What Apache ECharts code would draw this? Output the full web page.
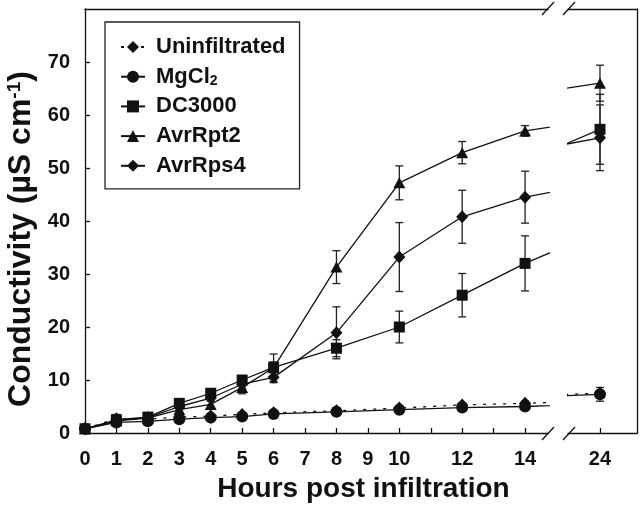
<!DOCTYPE html>
<html><head><meta charset="utf-8">
<script src="https://cdn.jsdelivr.net/npm/echarts@6/dist/echarts.min.js"></script>
<style>html,body{margin:0;padding:0;background:#fff}#c{width:641px;height:509px}</style>
</head><body><div id="c"></div>
<script>
const hours = [0, 1, 2, 3, 4, 5, 6, 8, 10, 12, 14, 24];
const uninfiltrated    = [0.8, 2.7, 2.6, 3.0, 3.2, 3.5, 3.8, 4.2, 4.7, 5.3, 5.6, 7.5];
const uninfiltratedErr = [0.2, 0.8, 0.3, 0.3, 0.3, 0.3, 0.3, 0.3, 0.3, 0.4, 0.4, 0.5];
const mgcl2    = [0.8, 2.0, 2.2, 2.6, 2.9, 3.1, 3.6, 4.0, 4.4, 4.8, 5.0, 7.3];
const mgcl2Err = [0.2, 0.4, 0.3, 0.3, 0.3, 0.3, 0.3, 0.3, 0.4, 0.4, 0.5, 1.3];
const dc3000    = [0.8, 2.5, 3.0, 5.6, 7.5, 10.0, 12.4, 16.0, 20.0, 26.0, 32.0, 57.3];
const dc3000Err = [0.2, 0.5, 0.5, 0.6, 0.7, 0.8, 1.0, 1.6, 3.0, 4.1, 5.2, 6.6];
const avrRpt2    = [0.8, 2.3, 2.8, 4.4, 5.4, 8.6, 12.3, 31.3, 47.2, 52.9, 57.0, 66.0];
const avrRpt2Err = [0.2, 0.5, 0.4, 0.5, 0.8, 1.2, 2.6, 3.1, 3.2, 2.1, 1.0, 3.4];
const avrRps4    = [0.8, 2.4, 2.9, 5.0, 6.6, 9.2, 10.5, 18.9, 33.2, 40.8, 44.5, 55.7];
const avrRps4Err = [0.2, 0.5, 0.4, 0.5, 0.6, 0.8, 1.0, 4.9, 6.5, 5.0, 4.9, 6.2];

const yTicks = [0, 10, 20, 30, 40, 50, 60, 70];
const xTicksLeft = [0, 1, 2, 3, 4, 5, 6, 7, 8, 9, 10, 11, 12, 13, 14];
const xLabelsLeft = [0, 1, 2, 3, 4, 5, 6, 7, 8, 9, 10, 12, 14];
const xTicksRight = [24];

const FONT = 'Liberation Sans, Arial, sans-serif';
const INK = '#111';

const seriesDefs = [
  {name: 'Uninfiltrated', vals: uninfiltrated, errs: uninfiltratedErr, symbol: 'diamond', size: [12, 13], dash: [3, 7]},
  {name: 'MgCl2', vals: mgcl2, errs: mgcl2Err, symbol: 'circle', size: 12, dash: 'solid'},
  {name: 'DC3000', vals: dc3000, errs: dc3000Err, symbol: 'rect', size: 11, dash: 'solid'},
  {name: 'AvrRpt2', vals: avrRpt2, errs: avrRpt2Err, symbol: 'triangle', size: [12, 11], dash: 'solid'},
  {name: 'AvrRps4', vals: avrRps4, errs: avrRps4Err, symbol: 'diamond', size: [12, 13], dash: 'solid'}
];

function lineSeries(d, xi, yi) {
  return {
    type: 'line', name: d.name, xAxisIndex: xi, yAxisIndex: yi,
    data: hours.map((h, i) => [h, d.vals[i]]),
    symbol: d.symbol, symbolSize: d.size, showAllSymbol: true,
    itemStyle: {color: INK},
    lineStyle: {color: INK, width: 1.3, type: d.dash},
    clip: true, z: 3, animation: false
  };
}
function errSeries(d, xi, yi, lo, hi) {
  const data = hours.map((h, i) => [h, d.vals[i] - d.errs[i], d.vals[i] + d.errs[i]])
    .filter(p => p[0] >= lo && p[0] <= hi);
  return {
    type: 'custom', name: d.name + ' error', xAxisIndex: xi, yAxisIndex: yi, z: 2, silent: true,
    data: data, encode: {x: 0, y: [1, 2]}, animation: false,
    renderItem: function (params, api) {
      const x = api.value(0);
      const a = api.coord([x, api.value(1)]);
      const b = api.coord([x, api.value(2)]);
      const hw = 4;
      const st = {stroke: '#222', lineWidth: 1.3};
      return {type: 'group', children: [
        {type: 'line', shape: {x1: a[0], y1: a[1], x2: b[0], y2: b[1]}, style: st},
        {type: 'line', shape: {x1: a[0] - hw, y1: a[1], x2: a[0] + hw, y2: a[1]}, style: st},
        {type: 'line', shape: {x1: b[0] - hw, y1: b[1], x2: b[0] + hw, y2: b[1]}, style: st}
      ]};
    }
  };
}

const series = [];
seriesDefs.forEach(d => { series.push(errSeries(d, 0, 0, 0, 14)); series.push(errSeries(d, 2, 1, 20, 30)); });
seriesDefs.forEach(d => { series.push(lineSeries(d, 0, 0)); series.push(lineSeries(d, 2, 1)); });

const axisLineStyle = {show: true, lineStyle: {color: INK, width: 1.3}};
const tickLabelStyle = {fontSize: 20, fontWeight: 'bold', color: INK, fontFamily: FONT};

const option = {
  backgroundColor: '#fff',
  animation: false,
  grid: [
    {left: 85, right: 93, top: 9, bottom: 76, containLabel: false, outerBoundsMode: 'none'},
    {left: 568, right: 4, top: 9, bottom: 76, containLabel: false, outerBoundsMode: 'none'}
  ],
  xAxis: [
    {type: 'value', gridIndex: 0, position: 'bottom', min: 0, max: 14.73,
     axisLine: axisLineStyle,
     axisTick: {show: true, inside: true, length: 5, customValues: xTicksLeft, lineStyle: {color: INK, width: 1.3}},
     axisLabel: Object.assign({customValues: xLabelsLeft, margin: 16}, tickLabelStyle),
     splitLine: {show: false},
     name: 'Hours post infiltration', nameLocation: 'middle', nameGap: 42,
     nameTextStyle: {fontSize: 28, fontWeight: 'bold', color: INK, fontFamily: FONT, padding: [0, 0, 0, 94]}},
    {type: 'value', gridIndex: 0, position: 'top', min: 0, max: 14.73,
     axisLine: axisLineStyle, axisTick: {show: false}, axisLabel: {show: false}, splitLine: {show: false}},
    {type: 'value', gridIndex: 1, position: 'bottom', min: 22.98, max: 25.18,
     axisLine: axisLineStyle,
     axisTick: {show: true, inside: true, length: 5, customValues: xTicksRight, lineStyle: {color: INK, width: 1.3}},
     axisLabel: Object.assign({customValues: xTicksRight, margin: 16}, tickLabelStyle),
     splitLine: {show: false}},
    {type: 'value', gridIndex: 1, position: 'top', min: 22.98, max: 25.18,
     axisLine: axisLineStyle, axisTick: {show: false}, axisLabel: {show: false}, splitLine: {show: false}}
  ],
  yAxis: [
    {type: 'value', gridIndex: 0, position: 'left', min: 0, max: 80,
     axisLine: axisLineStyle,
     axisTick: {show: true, inside: true, length: 5, customValues: yTicks, lineStyle: {color: INK, width: 1.3}},
     axisLabel: Object.assign({customValues: yTicks, margin: 15}, tickLabelStyle),
     splitLine: {show: false},
     name: 'Conductivity (µS cm{sup|-1})', nameLocation: 'middle', nameRotate: 90, nameGap: 43,
     nameTextStyle: {fontSize: 32, fontWeight: 'bold', color: INK, fontFamily: FONT, padding: [0, 36, 0, 0],
       rich: {sup: {fontSize: 19, fontWeight: 'bold', color: INK, fontFamily: FONT, verticalAlign: 'top', padding: [0, 0, 11, 0]}}}},
    {type: 'value', gridIndex: 1, position: 'right', min: 0, max: 80,
     axisLine: axisLineStyle, axisTick: {show: false}, axisLabel: {show: false}, splitLine: {show: false}}
  ],
  legend: {
    orient: 'vertical', left: 105, top: 22,
    padding: [14, 14, 12, 15], itemGap: 7.7, itemWidth: 24, itemHeight: 15,
    borderColor: '#222', borderWidth: 1.3, backgroundColor: '#fff',
    selectedMode: false,
    data: seriesDefs.map(d => d.name),
    formatter: n => n === 'MgCl2' ? 'MgCl{sub|2}' : n,
    textStyle: {fontSize: 22, fontWeight: 'bold', color: INK, fontFamily: FONT, lineHeight: 22, padding: [0, 0, 0, 6],
      rich: {sub: {fontSize: 14, fontWeight: 'bold', color: INK, fontFamily: FONT, verticalAlign: 'bottom', lineHeight: 22}}}
  },
  graphic: [
    {type: 'line', shape: {x1: 542, y1: 15, x2: 554, y2: 2}, style: {stroke: INK, lineWidth: 1.3}, z: 10},
    {type: 'line', shape: {x1: 563, y1: 15, x2: 575, y2: 2}, style: {stroke: INK, lineWidth: 1.3}, z: 10},
    {type: 'line', shape: {x1: 542, y1: 440, x2: 554, y2: 427}, style: {stroke: INK, lineWidth: 1.3}, z: 10},
    {type: 'line', shape: {x1: 563, y1: 440, x2: 575, y2: 427}, style: {stroke: INK, lineWidth: 1.3}, z: 10}
  ],
  series: series
};

const chart = echarts.init(document.getElementById('c'), null, {renderer: 'canvas'});
chart.setOption(option);
</script>
</body></html>
